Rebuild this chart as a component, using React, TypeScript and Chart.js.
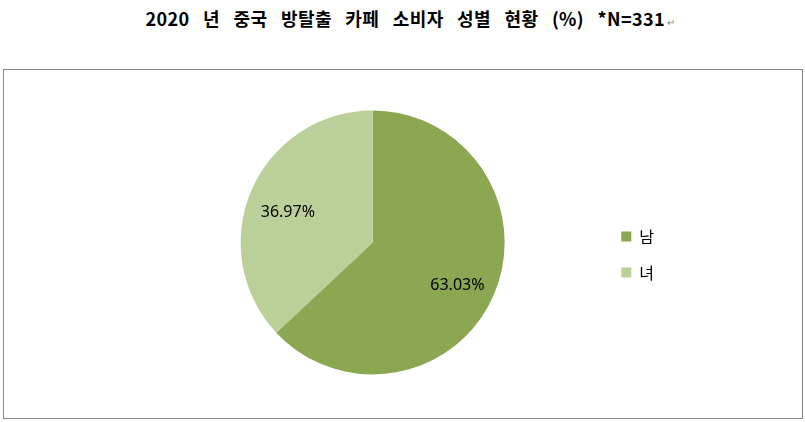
import React, { useEffect, useRef } from 'react';
import { Chart, registerables } from 'chart.js';
import type { ChartConfiguration, Plugin } from 'chart.js';

Chart.register(...registerables);

const genders = ['남', '녀'];
const shares = [63.03, 36.97];
const sliceColors = ['#8BA751', '#BBCF98'];

// percent labels inside the slices
const sliceLabels: Plugin<'pie'> = {
  id: 'sliceLabels',
  afterDatasetsDraw(chart) {
    const { ctx } = chart;
    const meta = chart.getDatasetMeta(0);
    ctx.save();
    ctx.font = '16px "Noto Sans", sans-serif';
    ctx.fillStyle = '#000';
    ctx.textAlign = 'center';
    ctx.textBaseline = 'middle';
    meta.data.forEach((el: any, i) => {
      const { x, y, startAngle, endAngle, outerRadius } = el.getProps(
        ['x', 'y', 'startAngle', 'endAngle', 'outerRadius'],
        true
      );
      const mid = (startAngle + endAngle) / 2;
      const r = outerRadius * 0.7;
      ctx.fillText(shares[i].toFixed(2) + '%', x + Math.cos(mid) * r, y + Math.sin(mid) * r + 6.5);
    });
    ctx.restore();
  },
};

const App: React.FC = () => {
  const chartRef = useRef<HTMLCanvasElement>(null);
  const chartInstanceRef = useRef<Chart | null>(null);

  useEffect(() => {
    if (!chartRef.current) return;
    if (chartInstanceRef.current) chartInstanceRef.current.destroy();

    const config: ChartConfiguration<'pie'> = {
      type: 'pie',
      data: {
        labels: genders,
        datasets: [
          {
            data: shares,
            backgroundColor: sliceColors,
            borderWidth: 0,
          },
        ],
      },
      options: {
        responsive: true,
        maintainAspectRatio: false,
        animation: false,
        layout: { padding: { top: 40.5, bottom: 43.5, left: 140, right: 138 } },
        plugins: {
          legend: {
            position: 'right',
            // empty title just pushes the items down a bit
            title: { display: true, text: '', font: { size: 10 }, padding: { top: 12, bottom: 0 } },
            labels: {
              boxWidth: 10,
              boxHeight: 10,
              padding: 20,
              color: '#000',
              font: { size: 16, family: '"Noto Sans CJK KR", sans-serif' },
            },
          },
          tooltip: { enabled: false },
        },
      },
      plugins: [sliceLabels],
    };

    chartInstanceRef.current = new Chart(chartRef.current, config);

    return () => {
      if (chartInstanceRef.current) {
        chartInstanceRef.current.destroy();
        chartInstanceRef.current = null;
      }
    };
  }, []);

  return (
    <div style={{ position: 'absolute', left: 0, top: 0, width: 805, height: 422, background: '#fff' }}>
      <div
        style={{
          position: 'absolute',
          left: 0,
          top: 5,
          width: 821,
          textAlign: 'center',
          fontFamily: '"Noto Sans CJK KR", sans-serif',
          fontWeight: 'bold',
          fontSize: 18,
          lineHeight: '26px',
          wordSpacing: 9,
          letterSpacing: 0.4,
          color: '#000',
        }}
      >
        2020 년 중국 방탈출 카페 소비자 성별 현황 (%) *N=331
        <span style={{ fontSize: 10, fontWeight: 'normal', color: '#888', marginLeft: 2, wordSpacing: 0 }}>↵</span>
      </div>
      <div
        style={{
          position: 'absolute',
          left: 3,
          top: 69,
          width: 800,
          height: 350,
          boxSizing: 'border-box',
          border: '1px solid #878787',
        }}
      >
        <div style={{ position: 'relative', width: 798, height: 348 }}>
          <canvas ref={chartRef}></canvas>
        </div>
      </div>
    </div>
  );
};

export default App;
